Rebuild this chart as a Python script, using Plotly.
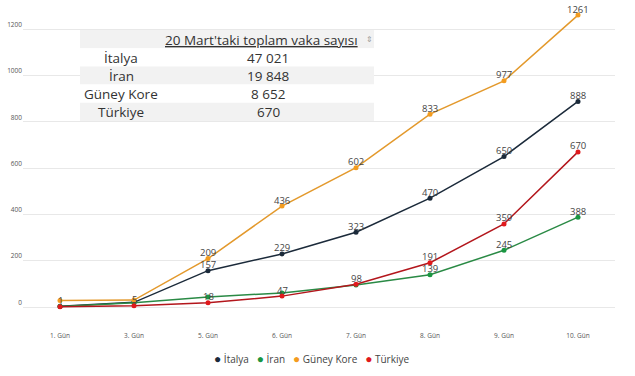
import plotly.graph_objects as go

days = ["1. Gün", "3. Gün", "5. Gün", "6. Gün", "7. Gün", "8. Gün", "9. Gün", "10. Gün"]

italya = [3, 20, 157, 229, 323, 470, 650, 888]
iran = [2, 18, 43, 61, 95, 139, 245, 388]
kore = [28, 30, 209, 436, 602, 833, 977, 1261]
turkiye = [1, 5, 18, 47, 98, 191, 359, 670]

italya_labels = ["", "", "157", "229", "323", "470", "650", "888"]
iran_labels = ["", "", "", "", "", "139", "245", "388"]
kore_labels = ["", "", "209", "436", "602", "833", "977", "1261"]
turkiye_labels = ["1", "5", "18", "47", "98", "191", "359", "670"]

table_names = ["İtalya", "İran", "Güney Kore", "Türkiye"]
table_values = ["47 021", "19 848", "8 652", "670"]
table_header = "20 Mart'taki toplam vaka sayısı"

yticks = [0, 200, 400, 600, 800, 1000, 1200]

series = [
    ("İtalya", italya, italya_labels, "#1b2a3a", "#1b2a3a"),
    ("İran", iran, iran_labels, "#2a8a45", "#1a9641"),
    ("Güney Kore", kore, kore_labels, "#e3992c", "#f39c1f"),
    ("Türkiye", turkiye, turkiye_labels, "#b3161c", "#e0191c"),
]

W, H = 635, 376
L, R, T, B = 23, 20, 6, 46
PW, PH = W - L - R, H - T - B


def px(x):
    return (x - L) / PW


def py(y):
    return (H - B - y) / PH


fig = go.Figure()
for name, vals, labels, lc, mc in series:
    fig.add_trace(go.Scatter(
        x=days, y=vals, mode="lines+markers",
        name=name, showlegend=False, cliponaxis=False,
        line=dict(color=lc, width=1.5),
        marker=dict(color=mc, size=5),
        hoverinfo="skip",
    ))
for name, vals, labels, lc, mc in series:
    for d, v, t in zip(days, vals, labels):
        if t:
            fig.add_annotation(x=d, y=v, text=t, showarrow=False, yshift=6,
                               xanchor="center", yanchor="middle",
                               font=dict(family="Open Sans", size=9.5, color="#444"))

# table (top-left box)
row_edges = [30, 48.2, 66.4, 84.6, 102.8, 121]
row_fill = ["#f2f2f2", "white", "#f2f2f2", "white", "#f2f2f2"]
for i, fc in enumerate(row_fill):
    fig.add_shape(type="rect", xref="paper", yref="paper",
                  x0=px(80), x1=px(374), y0=py(row_edges[i + 1]), y1=py(row_edges[i]),
                  fillcolor=fc, line=dict(width=0), layer="above")
tfont = dict(family="Open Sans", size=13.5, color="#333")
fig.add_annotation(xref="paper", yref="paper", x=px(261.5), y=py(39.5),
                   xanchor="center", yanchor="middle",
                   text="<u>" + table_header + "</u>", showarrow=False, font=tfont)
fig.add_annotation(xref="paper", yref="paper", x=px(369), y=py(38.5),
                   xanchor="center", yanchor="middle",
                   text="⇕", showarrow=False, font=dict(size=8, color="#999"))
for i, (n, v) in enumerate(zip(table_names, table_values)):
    yc = py((row_edges[i + 1] + row_edges[i + 2]) / 2 + 0.5)
    fig.add_annotation(xref="paper", yref="paper", x=px(121), y=yc, text=n,
                       xanchor="center", yanchor="middle",
                       showarrow=False, font=tfont)
    fig.add_annotation(xref="paper", yref="paper", x=px(268), y=yc, text=v,
                       xanchor="center", yanchor="middle",
                       showarrow=False, font=tfont)

# compact legend line
sp = "\u00a0"
legend_text = (sp * 3).join(
    f"<span style='color:{mc};font-size:12px'>●</span>{sp}{name}"
    for name, _, _, _, mc in series
)
fig.add_annotation(xref="paper", yref="paper", x=px(311), y=py(358),
                   text=legend_text, showarrow=False, xanchor="center", yanchor="middle",
                   font=dict(family="Open Sans", size=10, color="#444"))

fig.update_layout(
    width=W, height=H,
    margin=dict(l=L, r=R, t=T, b=B, pad=0),
    paper_bgcolor="white", plot_bgcolor="white",
    font=dict(family="Open Sans", color="#444"),
    showlegend=False,
    xaxis=dict(type="category", range=[-0.5, 7.5], showgrid=False, zeroline=False,
               showline=False, tickfont=dict(size=6.5, color="#555"), ticks="",
               automargin=False),
    yaxis=dict(range=[-(H - B - 307) / 0.2315, (307 - T) / 0.2315], tickvals=yticks,
               showgrid=True, gridcolor="#e8e8e8",
               gridwidth=1, zeroline=False, showline=False,
               tickfont=dict(size=6.5, color="#555"), ticklabelposition="outside top",
               ticks="", automargin=False),
)

fig.write_html("out.html", config={"displayModeBar": False},
               post_script="document.body.style.margin='0';")
